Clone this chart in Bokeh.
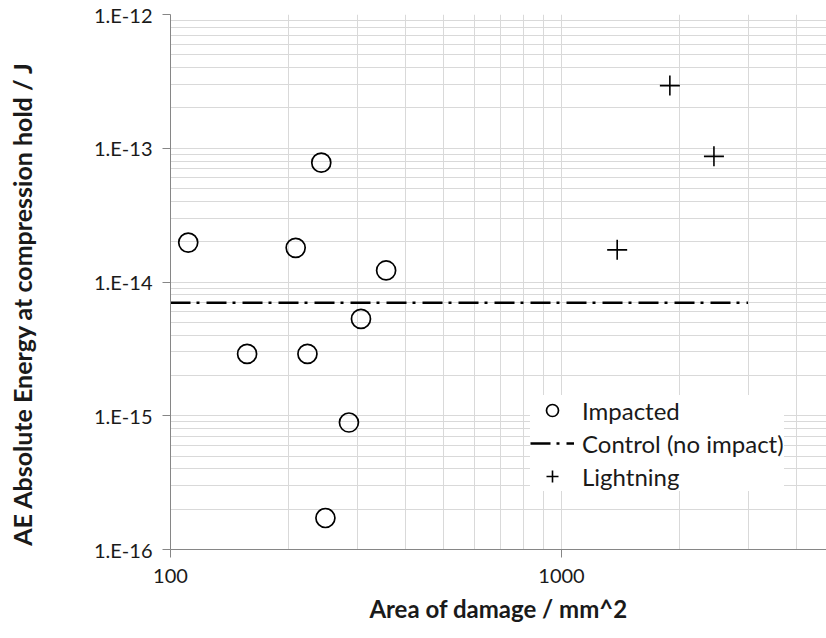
import math

from bokeh.plotting import figure
from bokeh.layouts import row
from bokeh.models import (Range1d, FixedTicker, CustomJSTickFormatter, Legend,
                          LegendItem, Label)
from bokeh.embed import file_html
from bokeh.resources import INLINE

# Impacted specimens: damage area (mm^2) and AE absolute energy (J)
impacted_area = [111, 209, 243, 356, 307, 157, 224, 286, 249]
impacted_energy = [1.97e-14, 1.80e-14, 7.8e-14, 1.22e-14, 5.3e-15,
                   2.9e-15, 2.9e-15, 8.9e-16, 1.72e-16]

# Lightning-strike specimens
lightning_area = [1893, 2454, 1388]
lightning_energy = [2.94e-13, 8.7e-14, 1.74e-14]

# Control level (no impact), drawn across the damage-area span
control_area = [100, 3000]
control_energy = [7.0e-15, 7.0e-15]

x_major = [100, 1000]
x_minor = [200, 300, 400, 500, 600, 700, 800, 900, 2000, 3000, 4000]
y_major = [1e-16, 1e-15, 1e-14, 1e-13, 1e-12]
y_minor = [m * 10.0 ** e for e in range(-16, -12) for m in range(2, 10)]

FONT = "Lato"
TEXT = "#1a1a1a"
AXIS_GREY = "#868686"
GRID_GREY = "#d9d9d9"
TITLE_W = 44

# narrow strip holding the vertical energy-axis title
# (its frame is aligned with the main plot's frame by the row layout)
title_fig = figure(width=TITLE_W, height=638, x_range=(0, 1), y_range=(0, 1),
                   output_backend="svg", toolbar_location=None,
                   x_axis_location=None, y_axis_location=None,
                   min_border=0)
title_fig.outline_line_color = None
title_fig.xgrid.visible = False
title_fig.ygrid.visible = False
title_fig.add_layout(Label(x=21, y=246, x_units="screen", y_units="screen",
                           text="AE Absolute Energy at compression hold / J",
                           angle=math.pi / 2, text_align="center",
                           text_baseline="middle", text_font=FONT,
                           text_font_style="bold", text_font_size="25px",
                           text_color=TEXT))

p = figure(width=826 - TITLE_W, height=638, x_axis_type="log", y_axis_type="log",
           x_range=Range1d(100, 10 ** (2 + 656 / 391)),
           y_range=Range1d(1e-16, 1e-12),
           output_backend="svg", toolbar_location=None,
           min_border_left=170 - TITLE_W, min_border_right=0,
           min_border_top=14, min_border_bottom=89)
p.outline_line_color = None
p.background_fill_color = "white"

p.xaxis.ticker = FixedTicker(ticks=x_major, minor_ticks=x_minor)
p.yaxis.ticker = FixedTicker(ticks=y_major, minor_ticks=y_minor)
p.xaxis.formatter = CustomJSTickFormatter(code="return String(Math.round(tick));")
p.yaxis.formatter = CustomJSTickFormatter(
    code="return '1.E' + Math.round(Math.log10(tick));")

for ax in (p.xaxis, p.yaxis):
    ax.axis_line_color = AXIS_GREY
    ax.major_tick_line_color = AXIS_GREY
    ax.major_tick_out = 8
    ax.major_tick_in = 0
    ax.minor_tick_line_color = None
    ax.major_label_text_font = FONT
    ax.major_label_text_font_size = "20px"
    ax.major_label_text_color = TEXT
    ax.axis_label_text_font = FONT
    ax.axis_label_text_font_style = "bold"
    ax.axis_label_text_font_size = "24px"
    ax.axis_label_text_color = TEXT

p.xaxis.axis_label = "Area of damage / mm^2"
p.xaxis.major_label_standoff = 11
p.yaxis.major_label_standoff = 10
p.xaxis.axis_label_standoff = 8

for g in (p.xgrid, p.ygrid):
    g.grid_line_color = GRID_GREY
    g.minor_grid_line_color = GRID_GREY
    g.grid_line_width = 1
    g.minor_grid_line_width = 1

r_imp = p.scatter(impacted_area, impacted_energy, marker="circle", size=19,
                  fill_color=None, line_color="black", line_width=1.7)
r_ctrl = p.line(control_area, control_energy, line_color="black",
                line_width=2.5, line_dash="20 6 3 7")
r_lig = p.scatter(lightning_area, lightning_energy, marker="cross", size=20,
                  line_color="black", line_width=1.6)

legend = Legend(items=[LegendItem(label="Impacted", renderers=[r_imp]),
                       LegendItem(label="Control (no impact)", renderers=[r_ctrl]),
                       LegendItem(label="Lightning", renderers=[r_lig])],
                location=(360, 58), border_line_color=None,
                background_fill_color="white", background_fill_alpha=1.0,
                label_text_font=FONT, label_text_font_size="24px",
                label_text_color=TEXT, glyph_width=44, glyph_height=30,
                label_standoff=8, spacing=3, padding=8, margin=0)
p.add_layout(legend)

layout = row(title_fig, p, spacing=0)
open("out.html", "w").write(file_html(layout, INLINE))
